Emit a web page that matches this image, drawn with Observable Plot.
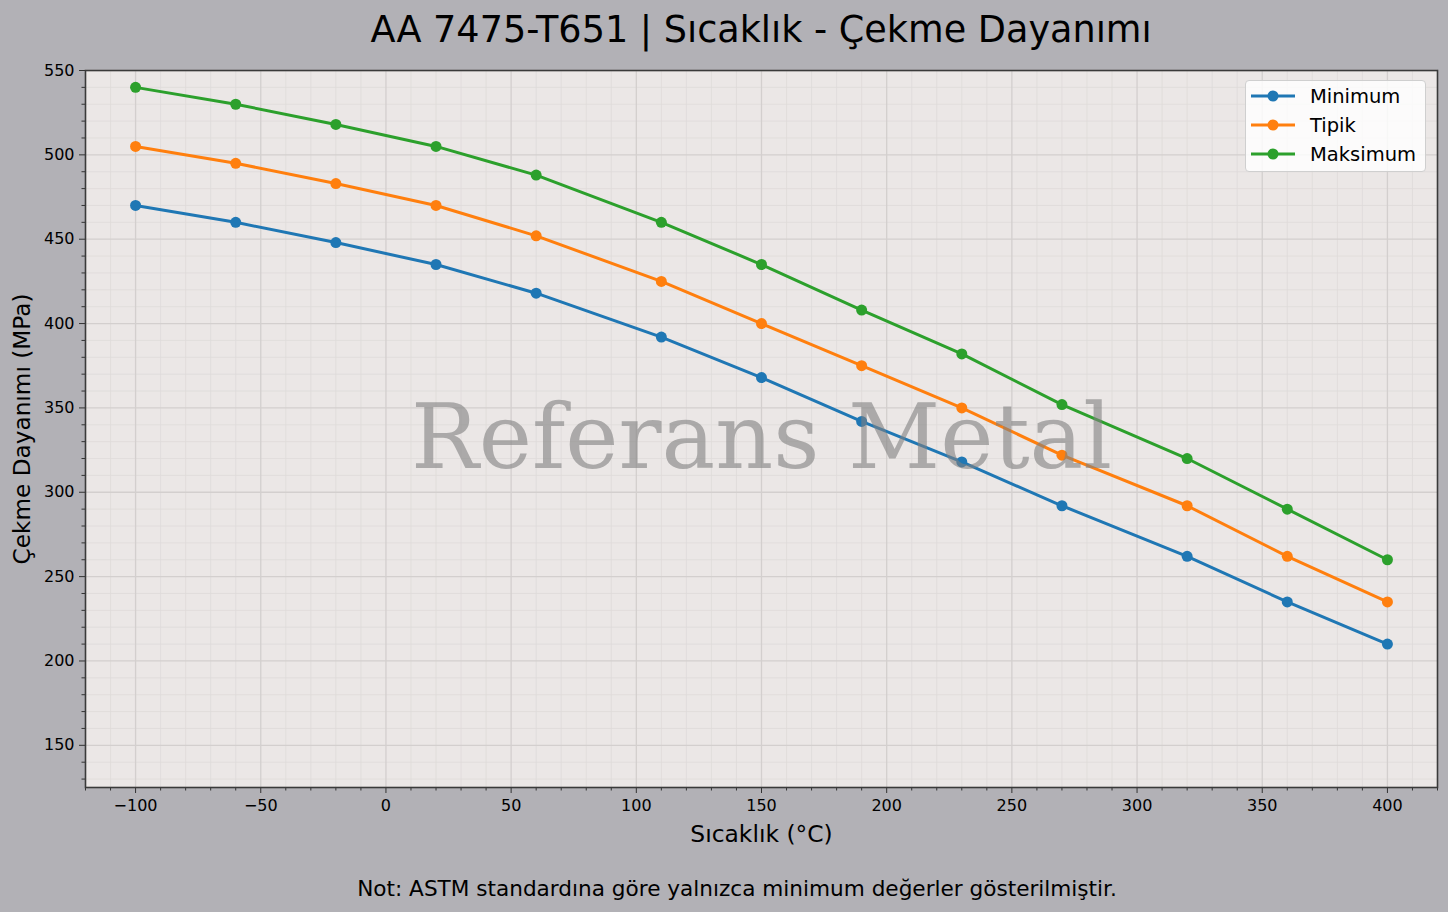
<!DOCTYPE html>
<html>
<head>
<meta charset="utf-8">
<script src="https://cdn.jsdelivr.net/npm/d3@7"></script>
<script src="https://cdn.jsdelivr.net/npm/@observablehq/plot@0.6"></script>
<style>
  html, body { margin: 0; padding: 0; background: #b2b1b6; width: 1448px; height: 912px; overflow: hidden; font-family: "DejaVu Sans", sans-serif; }
  #title { height: 60px; line-height: 60px; text-align: center; font-size: 36.6px; color: #000; padding-left: 74px; box-sizing: border-box; width: 1448px; white-space: nowrap; }
  #chart { position: relative; height: 800px; }
  #footer { height: 52px; line-height: 58px; text-align: center; font-size: 21.6px; color: #000; padding-left: 26px; box-sizing: border-box; width: 1448px; white-space: nowrap; }
  #legend { position: absolute; left: 1245px; top: 20px; width: 181px; height: 92px; background: rgba(255,255,255,0.82); border: 1px solid #cfcfcf; border-radius: 4px; box-sizing: border-box; }
</style>
</head>
<body>
<div id="title">AA 7475-T651 | Sıcaklık - Çekme Dayanımı</div>
<div id="chart"></div>
<div id="footer">Not: ASTM standardına göre yalnızca minimum değerler gösterilmiştir.</div>
<script>
const temps = [-100, -60, -20, 20, 60, 110, 150, 190, 230, 270, 320, 360, 400];
const minimum = [470, 460, 448, 435, 418, 392, 368, 342, 318, 292, 262, 235, 210];
const tipik = [505, 495, 483, 470, 452, 425, 400, 375, 350, 322, 292, 262, 235];
const maksimum = [540, 530, 518, 505, 488, 460, 435, 408, 382, 352, 320, 290, 260];
const seriesNames = ["Minimum", "Tipik", "Maksimum"];
const seriesColors = ["#1f77b4", "#ff7f0e", "#2ca02c"];
const xMajor = [-100, -50, 0, 50, 100, 150, 200, 250, 300, 350, 400];
const yMajor = [150, 200, 250, 300, 350, 400, 450, 500, 550];
const xDomain = [-120, 420];
const yDomain = [125, 550];
const xMinor = d3.range(-120, 421, 10).filter(v => !xMajor.includes(v));
const yMinor = d3.range(130, 551, 10).filter(v => !yMajor.includes(v));

const allSeries = [minimum, tipik, maksimum];
const data = [];
allSeries.forEach((vals, i) => vals.forEach((v, j) => data.push({ t: temps[j], v, s: seriesNames[i] })));

const plot = Plot.plot({
  width: 1448,
  height: 800,
  marginLeft: 85,
  marginRight: 11,
  marginTop: 10,
  marginBottom: 73,
  style: { background: "transparent", fontFamily: "DejaVu Sans, sans-serif", fontSize: "16px", color: "#000" },
  x: { domain: xDomain },
  y: { domain: yDomain },
  color: { domain: seriesNames, range: seriesColors },
  marks: [
    Plot.frame({ fill: "#ebe7e6", stroke: null }),
    Plot.gridX(xMinor, { stroke: "#dedad9", strokeOpacity: 1, strokeWidth: 0.8 }),
    Plot.gridY(yMinor, { stroke: "#dedad9", strokeOpacity: 1, strokeWidth: 0.8 }),
    Plot.gridX(xMajor, { stroke: "#d3cfce", strokeOpacity: 1, strokeWidth: 1.3 }),
    Plot.gridY(yMajor, { stroke: "#d3cfce", strokeOpacity: 1, strokeWidth: 1.3 }),
    Plot.axisX(xMajor, { tickSize: 6, tickPadding: 6, fontSize: 16, tickFormat: d => d < 0 ? "\u2212" + Math.abs(d) : String(d), label: null, stroke: "#333" }),
    Plot.axisX(xMinor, { tickSize: 3.5, text: null, label: null, stroke: "#333" }),
    Plot.axisY(yMajor, { tickSize: 6, tickPadding: 5, fontSize: 16, label: null, stroke: "#333" }),
    Plot.axisY(yMinor, { tickSize: 3.5, text: null, label: null, stroke: "#333" }),
    Plot.line(data, { x: "t", y: "v", z: "s", stroke: "s", strokeWidth: 3 }),
    Plot.dot(data, { x: "t", y: "v", fill: "s", r: 5.5, stroke: null }),
    Plot.text(["Referans Metal"], { frameAnchor: "middle", dy: 10, fontFamily: "DejaVu Serif", fontSize: 90, fill: "#808080", fillOpacity: 0.6 }),
    Plot.frame({ stroke: "#3a3a3a", strokeWidth: 1.6 }),
    Plot.text(["Sıcaklık (°C)"], { frameAnchor: "bottom", dy: 54, fontSize: 23.4, fill: "#000" }),
    Plot.text(["Çekme Dayanımı (MPa)"], { frameAnchor: "left", textAnchor: "middle", dx: -63, rotate: -90, fontSize: 23.2, fill: "#000" })
  ]
});
document.getElementById("chart").appendChild(plot);

// legend
const legend = document.createElement("div");
legend.id = "legend";
document.getElementById("chart").appendChild(legend);
const lsvg = d3.select(legend).append("svg").attr("width", 181).attr("height", 92).style("position", "absolute").style("left", "-1px").style("top", "-1px");
seriesNames.forEach((name, i) => {
  const cy = 16 + i * 29;
  lsvg.append("line").attr("x1", 6).attr("x2", 50).attr("y1", cy).attr("y2", cy).attr("stroke", seriesColors[i]).attr("stroke-width", 3);
  lsvg.append("circle").attr("cx", 28).attr("cy", cy).attr("r", 5.5).attr("fill", seriesColors[i]);
  lsvg.append("text").attr("x", 65).attr("y", cy).attr("dy", "0.35em").attr("font-size", 19.5).attr("font-family", "DejaVu Sans").attr("fill", "#000").text(name);
});
</script>
</body>
</html>
